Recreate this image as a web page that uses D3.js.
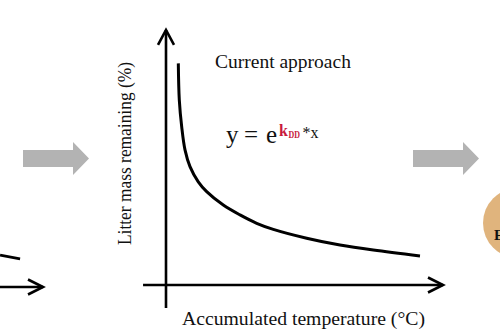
<!DOCTYPE html>
<html>
<head>
<meta charset="utf-8">
<script src="https://cdn.jsdelivr.net/npm/d3@7"></script>
<style>
  html, body { margin: 0; padding: 0; background: #fff; }
  svg { display: block; }
  text { font-family: "Liberation Serif", "Times New Roman", serif; }
</style>
</head>
<body>
<script>
// ---- data (arbitrary units 0-100) ----
const curveX = [4.56, 4.93, 5.81, 7.04, 8.89, 11.96, 15.07, 21.22, 27.41, 33.59, 39.74, 52.11, 64.44, 76.78, 94.07];
const curveY = [87.6, 73.1, 62.6, 53.4, 46.8, 40.8, 36.9, 31.6, 27.7, 24.4, 22.0, 18.5, 15.8, 13.8, 11.5];
const leftTailX = [86.7, 94.1];
const leftTailY = [12.6, 11.1];
const titleText = "Current approach";
const xLabel = "Accumulated temperature (\u00B0C)";
const yLabel = "Litter mass remaining (%)";

const W = 500, H = 330;
const svg = d3.select("body").append("svg").attr("width", W).attr("height", H);
svg.append("rect").attr("width", W).attr("height", H).attr("fill", "#fff");

// scales for the central panel
const x = d3.scaleLinear().domain([0, 100]).range([166, 436]);
const y = d3.scaleLinear().domain([0, 100]).range([285, 32]);
// neighbouring (cropped) left panel, same layout shifted
const xL = d3.scaleLinear().domain([0, 100]).range([-234, 36]);
const yL = d3.scaleLinear().domain([0, 100]).range([287, 34]);

const AX = 2.6;

function drawAxes(g, xs, ys, showY) {
  const x0 = xs(-8.5), x1 = xs(102.6), yy = ys(0);
  g.append("line").attr("x1", x0).attr("x2", x1).attr("y1", yy).attr("y2", yy)
    .attr("stroke", "#000").attr("stroke-width", AX);
  g.append("path").attr("d", `M${x1 - 15},${yy - 7.5}L${x1},${yy}L${x1 - 15},${yy + 7.5}`)
    .attr("fill", "none").attr("stroke", "#000").attr("stroke-width", AX);
  if (showY) {
    const xx = xs(0), yb = ys(-9.1), yt = ys(100.8);
    g.append("line").attr("x1", xx).attr("x2", xx).attr("y1", yb).attr("y2", yt)
      .attr("stroke", "#000").attr("stroke-width", AX);
    g.append("path").attr("d", `M${xx - 8},${yt + 15}L${xx},${yt}L${xx + 8},${yt + 15}`)
      .attr("fill", "none").attr("stroke", "#000").attr("stroke-width", AX);
  }
}

// left cropped panel
const gl = svg.append("g");
drawAxes(gl, xL, yL, false);
gl.append("path")
  .datum(leftTailX.map((v, i) => [v, leftTailY[i]]))
  .attr("d", d3.line().x(d => xL(d[0])).y(d => yL(d[1])))
  .attr("fill", "none").attr("stroke", "#000").attr("stroke-width", 2.8);

// central panel
const g = svg.append("g");
drawAxes(g, x, y, true);
g.append("path")
  .datum(curveX.map((v, i) => [v, curveY[i]]))
  .attr("d", d3.line().curve(d3.curveCatmullRom.alpha(0.5)).x(d => x(d[0])).y(d => y(d[1])))
  .attr("fill", "none").attr("stroke", "#000").attr("stroke-width", 3);

// labels
svg.append("text").attr("x", 215).attr("y", 68).attr("font-size", 19.5)
  .attr("fill", "#111").text(titleText);
svg.append("text").attr("x", 182).attr("y", 325).attr("font-size", 19.5)
  .attr("textLength", 243).attr("lengthAdjust", "spacingAndGlyphs")
  .attr("fill", "#111").text(xLabel);
svg.append("text").attr("transform", "translate(131,153.5) rotate(-90)")
  .attr("text-anchor", "middle").attr("font-size", 19.5)
  .attr("textLength", 183).attr("lengthAdjust", "spacingAndGlyphs")
  .attr("fill", "#111").text(yLabel);

// equation
const eq = svg.append("g").attr("fill", "#111");
eq.append("text").attr("x", 226).attr("y", 143).attr("font-size", 25).text("y");
eq.append("text").attr("x", 244).attr("y", 143).attr("font-size", 25).text("=");
eq.append("text").attr("x", 266).attr("y", 143).attr("font-size", 25).text("e");
eq.append("text").attr("x", 279).attr("y", 136).attr("font-size", 16).attr("font-weight", "bold")
  .attr("fill", "#c8193c").text("k");
eq.append("text").attr("x", 288.5).attr("y", 137.5).attr("font-size", 10.5).attr("font-weight", "bold")
  .attr("textLength", 11.5).attr("lengthAdjust", "spacingAndGlyphs")
  .attr("fill", "#c8193c").text("DD");
eq.append("text").attr("x", 302.5).attr("y", 138).attr("font-size", 16).text("*x");

// grey flow arrows
function greyArrow(x0) {
  svg.append("path")
    .attr("d", `M${x0},150L${x0 + 50},150L${x0 + 50},142L${x0 + 66},158.5L${x0 + 50},175L${x0 + 50},167L${x0},167Z`)
    .attr("fill", "#b3b3b3");
}
greyArrow(23);
greyArrow(413);

// cropped circle on the right
svg.append("circle").attr("cx", 518).attr("cy", 223).attr("r", 35).attr("fill", "#e0b47d");
svg.append("text").attr("x", 494).attr("y", 240).attr("font-size", 15).attr("font-weight", "bold")
  .attr("fill", "#111").text("E");
</script>
</body>
</html>
